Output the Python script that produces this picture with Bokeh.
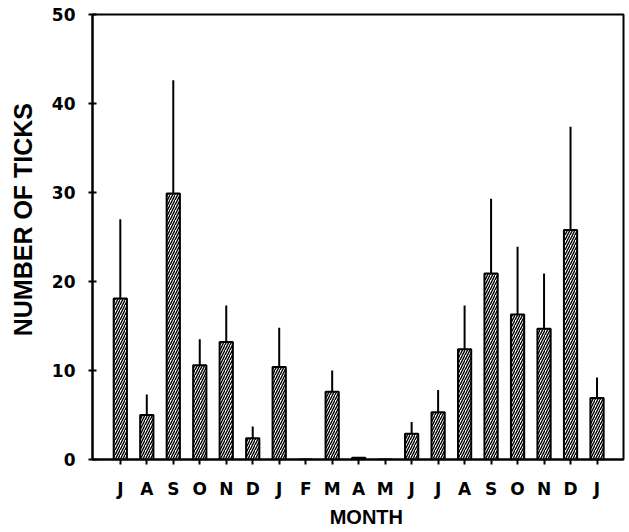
from bokeh.plotting import figure
from bokeh.models import FixedTicker, Range1d, ColumnDataSource
from bokeh.embed import file_html
from bokeh.resources import INLINE

months = ["J", "A", "S", "O", "N", "D", "J", "F", "M", "A", "M", "J", "J", "A", "S", "O", "N", "D", "J"]
mean_ticks = [18.1, 5.0, 29.9, 10.6, 13.2, 2.4, 10.4, 0.0, 7.6, 0.2, 0.0, 2.9, 5.3, 12.4, 20.9, 16.3, 14.7, 25.8, 6.9]
upper_ticks = [27.0, 7.3, 42.6, 13.5, 17.3, 3.7, 14.8, 0.0, 10.0, 0.2, 0.0, 4.2, 7.8, 17.3, 29.3, 23.9, 20.9, 37.4, 9.2]
y_ticks = [0, 10, 20, 30, 40, 50]
x_title = "MONTH"
y_title = "NUMBER OF TICKS"

xpos = list(range(1, len(months) + 1))
src = ColumnDataSource(dict(x=xpos, m=mean_ticks, u=upper_ticks))

p = figure(width=626, height=530, output_backend="svg", toolbar_location=None,
           x_range=Range1d(-0.05, 20.0), y_range=Range1d(0, 50),
           min_border_left=92, min_border_right=3, min_border_top=14, min_border_bottom=71)
p.grid.visible = False
p.outline_line_color = "black"
p.outline_line_width = 2
p.background_fill_color = "white"
p.border_fill_color = "white"

p.segment(x0="x", y0="m", x1="x", y1="u", source=src, line_color="black", line_width=2)
p.vbar(x="x", top="m", bottom=0, width=0.5, source=src, fill_color="white",
       line_color="black", line_width=2, hatch_pattern="/", hatch_color="black",
       hatch_scale=5, hatch_weight=1.4)

tick_font = "DejaVu Sans"
title_font = "Liberation Sans"
nb = "\u00a0"
p.xaxis.ticker = FixedTicker(ticks=xpos)
p.xaxis.major_label_overrides = {x: m for x, m in zip(xpos, months)}
p.yaxis.ticker = FixedTicker(ticks=y_ticks)
# non-breaking spaces nudge the titles off-centre as in the original
p.xaxis.axis_label = nb * 3 + x_title
p.yaxis.axis_label = nb * 5 + y_title

for ax in (p.xaxis[0], p.yaxis[0]):
    ax.axis_line_width = 2
    ax.axis_line_color = "black"
    ax.major_tick_line_width = 2
    ax.major_tick_line_color = "black"
    ax.minor_tick_line_color = None
    ax.major_label_text_font = tick_font
    ax.major_label_text_font_style = "bold"
    ax.major_label_text_color = "black"
    ax.axis_label_text_font = title_font
    ax.axis_label_text_font_style = "bold"
    ax.axis_label_text_color = "black"

p.xaxis.major_tick_in = 0
p.xaxis.major_tick_out = 5
p.xaxis.major_label_text_font_size = "17px"
p.xaxis.major_label_standoff = 14
p.xaxis.axis_label_text_font_size = "20px"
p.xaxis.axis_label_standoff = 4

p.yaxis.major_tick_in = 4
p.yaxis.major_tick_out = 4
p.yaxis.major_label_text_font_size = "17px"
p.yaxis.major_label_standoff = 13
p.yaxis.axis_label_text_font_size = "25px"
p.yaxis.axis_label_standoff = 12

open("out.html", "w").write(file_html(p, INLINE))
